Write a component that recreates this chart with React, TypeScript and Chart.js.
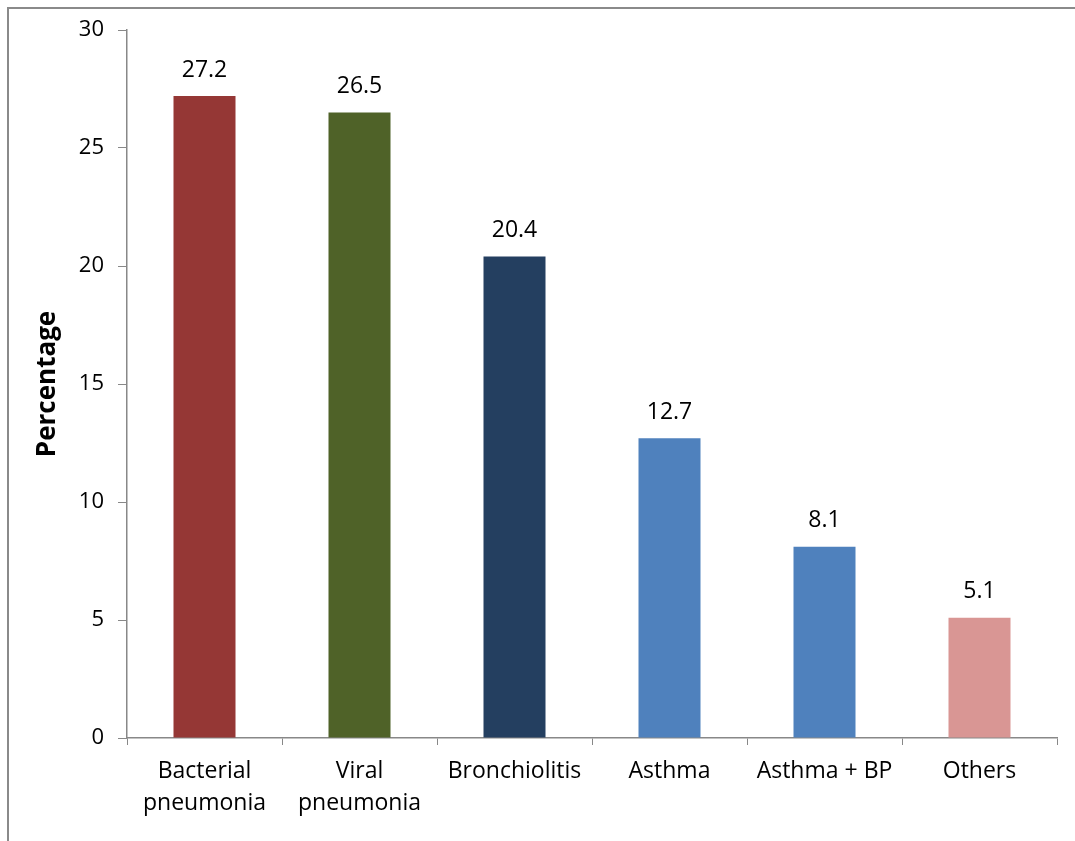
import React, { useEffect, useRef } from "react";
import { Chart, registerables } from "chart.js";

Chart.register(...registerables);

const categories: (string | string[])[] = [
  ["Bacterial", "pneumonia"],
  ["Viral", "pneumonia"],
  "Bronchiolitis",
  "Asthma",
  "Asthma + BP",
  "Others",
];
const percentages: number[] = [27.2, 26.5, 20.4, 12.7, 8.1, 5.1];
const barColors: string[] = ["#953735", "#4F6228", "#243F60", "#4F81BD", "#4F81BD", "#D99694"];
const yTicks: number[] = [0, 5, 10, 15, 20, 25, 30];

const FONT = "'Open Sans', 'Noto Sans', sans-serif";
const AXIS = "#888888";

const valueLabels = {
  id: "valueLabels",
  afterDatasetsDraw(chart: any) {
    const ctx = chart.ctx;
    const meta = chart.getDatasetMeta(0);
    ctx.save();
    ctx.font = `23px ${FONT}`;
    ctx.fillStyle = "#000";
    ctx.textAlign = "center";
    ctx.textBaseline = "middle";
    meta.data.forEach((bar: any, i: number) => {
      ctx.fillText(percentages[i].toFixed(1), bar.x, bar.y - 26);
    });
    ctx.restore();
  },
};

export default function App() {
  const ref = useRef<HTMLCanvasElement | null>(null);
  useEffect(() => {
    if (!ref.current) return;
    const chart = new Chart(ref.current, {
      type: "bar",
      data: {
        labels: categories,
        datasets: [
          {
            data: percentages,
            backgroundColor: barColors,
            borderWidth: 0,
            categoryPercentage: 1,
            barPercentage: 0.4,
          },
        ],
      },
      options: {
        animation: false,
        responsive: false,
        devicePixelRatio: 1,
        layout: { padding: { top: 30, right: 18, left: 0, bottom: 0 } },
        plugins: { legend: { display: false }, tooltip: { enabled: false } },
        scales: {
          x: {
            grid: {
              offset: true,
              drawOnChartArea: false,
              color: AXIS,
              tickLength: 7,
              tickColor: AXIS,
            },
            border: { color: AXIS, width: 1.5 },
            ticks: {
              color: "#000",
              font: { family: FONT, size: 23, lineHeight: "32px" },
              padding: 10,
              maxRotation: 0,
              autoSkip: false,
            },
            afterFit: (s: any) => {
              s.height = 103;
            },
          },
          y: {
            min: 0,
            max: 30,
            afterBuildTicks: (s: any) => {
              s.ticks = yTicks.map((v) => ({ value: v }));
            },
            grid: {
              drawOnChartArea: false,
              color: AXIS,
              tickLength: 9,
              tickColor: AXIS,
            },
            border: { color: AXIS, width: 1.5 },
            ticks: {
              color: "#000",
              font: { family: FONT, size: 22 },
              padding: 14,
            },
            title: {
              display: true,
              text: "Percentage",
              color: "#000",
              font: { family: FONT, size: 26, weight: "bold", lineHeight: 1.2 },
              padding: { top: 32, bottom: 0 },
            },
            afterFit: (s: any) => {
              s.width = 127;
            },
          },
        },
      },
      plugins: [valueLabels],
    });
    return () => chart.destroy();
  }, []);

  return (
    <div style={{ position: "fixed", left: 0, top: 0, width: 1075, height: 841, background: "#fff", overflow: "hidden" }}>
      <div
        style={{
          position: "absolute",
          left: 7,
          top: 7,
          width: 1200,
          height: 1000,
          borderTop: "2px solid #8a8a8a",
          borderLeft: "2px solid #8a8a8a",
        }}
      />
      <canvas ref={ref} width={1075} height={841} style={{ position: "absolute", left: 0, top: 0 }} />
    </div>
  );
}
